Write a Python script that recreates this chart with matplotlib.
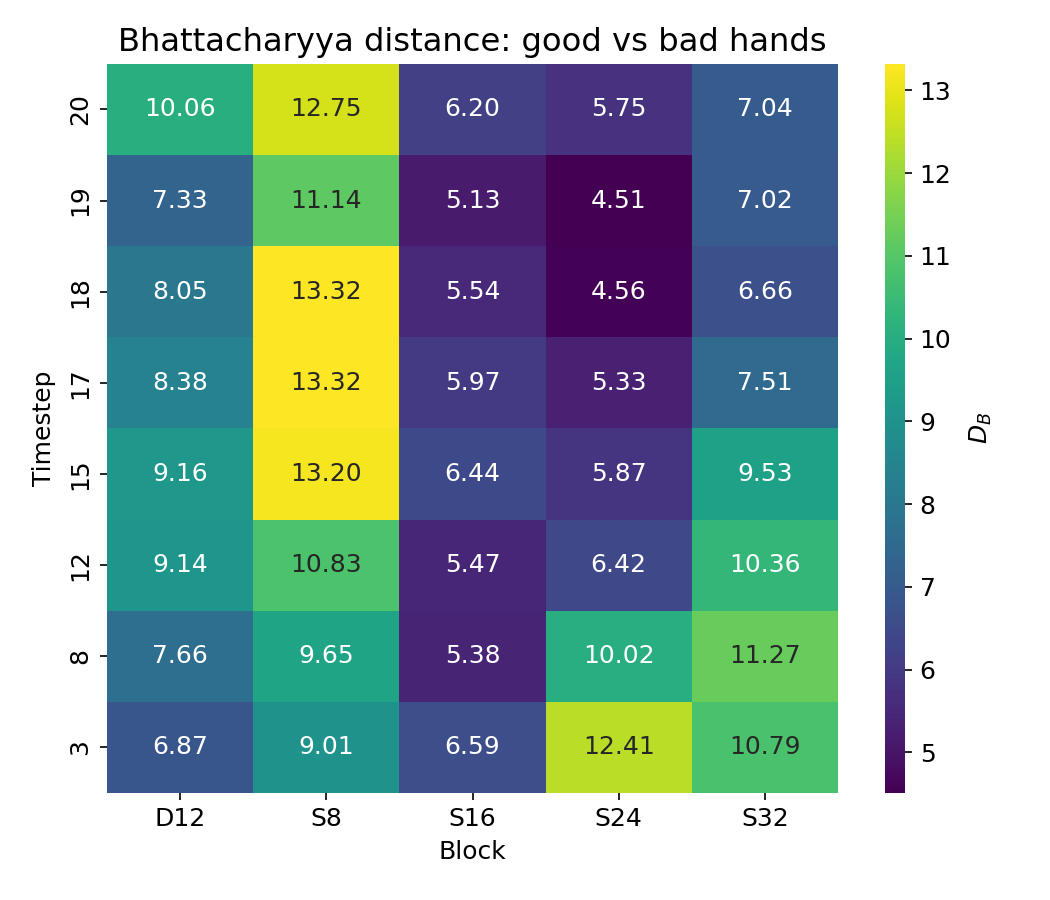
import numpy as np
import pandas as pd
import matplotlib
matplotlib.use("Agg")
import matplotlib.pyplot as plt
import seaborn as sns

blocks = ["D12", "S8", "S16", "S24", "S32"]
timesteps = ["20", "19", "18", "17", "15", "12", "8", "3"]

d12 = [10.06, 7.33, 8.05, 8.38, 9.16, 9.14, 7.66, 6.87]
s8 = [12.75, 11.14, 13.32, 13.32, 13.20, 10.83, 9.65, 9.01]
s16 = [6.20, 5.13, 5.54, 5.97, 6.44, 5.47, 5.38, 6.59]
s24 = [5.75, 4.51, 4.56, 5.33, 5.87, 6.42, 10.02, 12.41]
s32 = [7.04, 7.02, 6.66, 7.51, 9.53, 10.36, 11.27, 10.79]

df = pd.DataFrame(dict(zip(blocks, [d12, s8, s16, s24, s32])), index=timesteps)

plt.rcParams["font.size"] = 12
fig = plt.figure(figsize=(7, 6), dpi=150)
ax = fig.add_axes([0.102, 0.119, 0.696, 0.810])
cax = fig.add_axes([0.843, 0.119, 0.019, 0.810])
sns.heatmap(df, annot=True, fmt=".2f", cmap="viridis", ax=ax, cbar_ax=cax,
            annot_kws={"size": 12})
ax.set_title("Bhattacharyya distance: good vs bad hands", fontsize=15.5)
ax.set_xlabel("Block", fontsize=12)
ax.set_ylabel("Timestep", fontsize=12, labelpad=6)
ax.tick_params(labelsize=12)
cax.tick_params(labelsize=12)
cax.set_ylabel("$D_B$", fontsize=12, labelpad=8)
fig.savefig("out.png", dpi=150)
